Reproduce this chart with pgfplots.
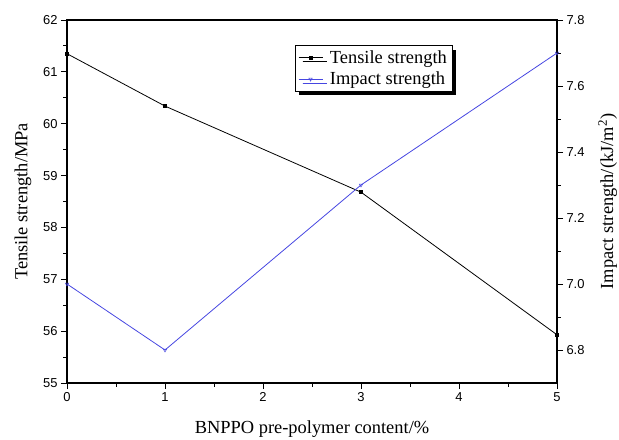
\documentclass[border=0pt]{standalone}
\usepackage{fontspec}
\setmainfont{Liberation Serif}
\newfontfamily\tickfont{Liberation Sans}
\usepackage{pgfplots}
\pgfplotsset{compat=1.18}
\usetikzlibrary{shadows}

\definecolor{impactblue}{RGB}{70,70,225}

\pgfplotsset{
  common/.style={
    width=490bp, height=363bp, scale only axis,
    at={(0,0)}, anchor=south west,
    xmin=0, xmax=5,
    tick align=outside,
    major tick length=6bp, minor tick length=3.5bp,
    every tick/.style={black, line width=0.9pt},
    axis line style={line width=1.1pt},
    ticklabel style={font=\tickfont\fontsize{13}{15}\selectfont},
    /pgf/number format/assume math mode=true,
    label style={font=\fontsize{18.5}{21}\selectfont},
  }
}

\begin{document}
\begin{tikzpicture}
% Tensile strength, left axis
\begin{axis}[common,
  ymin=55, ymax=62,
  xtick={0,1,2,3,4,5}, minor xtick={0.5,1.5,2.5,3.5,4.5},
  ytick={55,56,57,58,59,60,61,62},
  minor ytick={55.5,56.5,57.5,58.5,59.5,60.5,61.5},
  xtick pos=bottom, ytick pos=left,
  xlabel={BNPPO pre-polymer content/\%},
  ylabel={Tensile strength/MPa},
  xlabel style={yshift=-12bp},
  ylabel style={yshift=5bp},
]
\addplot[black, line width=0.8pt, mark=square*, mark size=1.4pt]
  coordinates {(0,61.35) (1,60.34) (3,58.68) (5,55.93)};
\end{axis}
% Impact strength, right axis
\begin{axis}[common,
  ymin=6.7, ymax=7.8,
  axis y line*=right, axis x line=none,
  ytick={6.8,7.0,7.2,7.4,7.6,7.8},
  minor ytick={6.9,7.1,7.3,7.5,7.7},
  yticklabel style={/pgf/number format/.cd, fixed, fixed zerofill, precision=1},
  ylabel={Impact strength/(kJ/m\textsuperscript{2})},
  ylabel style={yshift=-7bp},
  legend style={at={(rel axis cs:0.465,0.93)}, anchor=north west,
    draw=black, line width=0.6pt, fill=white,
    font=\fontsize{18.5}{21}\selectfont,
    inner xsep=3bp, inner ysep=3bp, row sep=3bp,
    /tikz/every odd column/.append style={column sep=5bp},
    drop shadow={shadow xshift=4bp, shadow yshift=-4bp, fill=black, opacity=1}},
  legend cell align=left,
  legend image code/.code={%
    \draw[mark repeat=2, mark phase=2]
      plot coordinates {(0bp,0bp) (12bp,0bp) (24bp,0bp)};},
]
\addlegendimage{black, line width=0.8pt, mark=square*, mark size=1.4pt}
\addlegendentry{Tensile strength}
\addplot[impactblue, line width=0.8pt, mark=triangle, mark size=2pt,
  mark options={rotate=180, line width=0.5pt}]
  coordinates {(0,7.0) (1,6.8) (3,7.3) (5,7.7)};
\addlegendentry{Impact strength}
\end{axis}
\pgfresetboundingbox
\path (-67bp,-57bp) rectangle (552bp,383bp);
\end{tikzpicture}
\end{document}
